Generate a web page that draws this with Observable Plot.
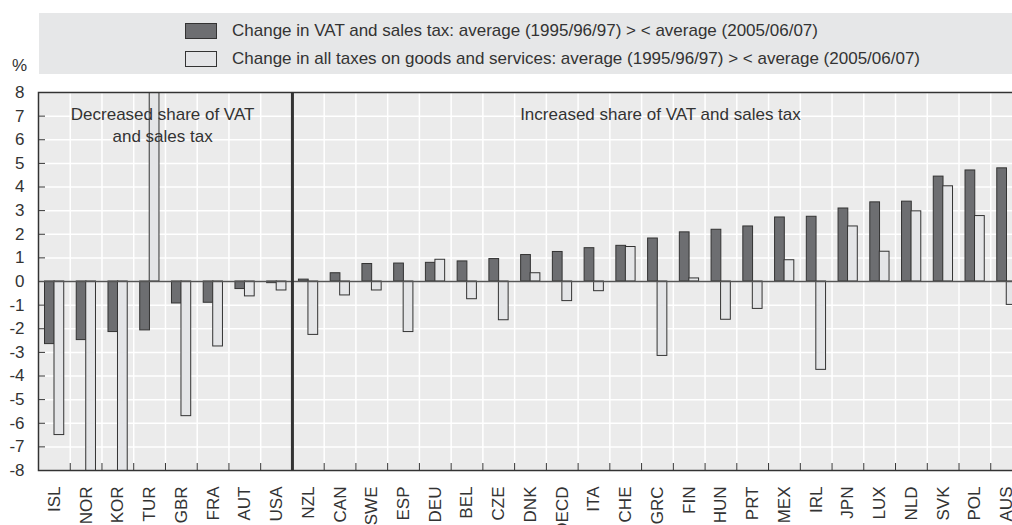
<!DOCTYPE html>
<html>
<head>
<meta charset="utf-8">
<script src="https://cdn.jsdelivr.net/npm/d3@7"></script>
<script src="https://cdn.jsdelivr.net/npm/@observablehq/plot@0.6"></script>
<style>
  html, body { margin: 0; padding: 0; overflow: hidden; background: #fff; width: 1012px; height: 525px; }
  body { font-family: "Liberation Sans Narrow", "Liberation Sans", sans-serif; color: #333; }
  #legend { position: relative; height: 62px; }
  #legend .box { position: absolute; left: 39px; top: 13px; width: 990px; height: 61px; background: #e6e7e8; }
  #legend .sw { position: absolute; left: 185px; width: 30px; height: 14px; border: 1px solid #333; }
  #legend .lt { position: absolute; left: 232px; font-size: 17px; line-height: 20px; white-space: nowrap; }
  #legend .pct { position: absolute; left: 12px; top: 56px; font-size: 17px; line-height: 20px; }
  #chart { position: relative; }
</style>
</head>
<body>
<div id="legend"></div>
<div id="chart"></div>
<script>
const countries = ["ISL","NOR","KOR","TUR","GBR","FRA","AUT","USA","NZL","CAN","SWE","ESP","DEU","BEL","CZE","DNK","OECD","ITA","CHE","GRC","FIN","HUN","PRT","MEX","IRL","JPN","LUX","NLD","SVK","POL","AUS"];
const vatChange = [-2.65,-2.48,-2.14,-2.07,-0.93,-0.9,-0.32,-0.07,0.08,0.35,0.74,0.76,0.79,0.85,0.95,1.12,1.25,1.41,1.51,1.82,2.08,2.19,2.33,2.71,2.74,3.09,3.35,3.38,4.44,4.7,4.79];
const allTaxesChange = [-6.5,-10.5,-9.5,9.5,-5.7,-2.75,-0.63,-0.38,-2.26,-0.59,-0.38,-2.14,0.92,-0.75,-1.64,0.35,-0.83,-0.41,1.46,-3.15,0.13,-1.62,-1.16,0.9,-3.74,2.33,1.26,2.97,4.03,2.77,-0.99];
const seriesNames = [
  "Change in VAT and sales tax: average (1995/96/97) > < average (2005/06/07)",
  "Change in all taxes on goods and services: average (1995/96/97) > < average (2005/06/07)"
];
const seriesColors = ["#6d6e71", "#e4e5e7"];
const yTicks = [-8,-7,-6,-5,-4,-3,-2,-1,0,1,2,3,4,5,6,7,8];
const annotations = [
  {label: "Decreased share of VAT", country: "TUR", value: 7.08, shift: 13},
  {label: "and sales tax", country: "TUR", value: 6.15, shift: 13},
  {label: "Increased share of VAT and sales tax", country: "GRC", value: 7.08, shift: 3}
];

const rows = countries.map((c, i) => ({country: c, vat: vatChange[i], all: allTaxesChange[i]}));

// Legend (HTML, above the SVG)
const legend = document.getElementById("legend");
legend.innerHTML = `<div class="box"></div>
  <div class="sw" style="top:23px;background:${seriesColors[0]}"></div>
  <div class="lt" style="top:21px">${seriesNames[0].replace(/</g,"&lt;").replace(/>/g,"&gt;")}</div>
  <div class="sw" style="top:51px;background:${seriesColors[1]}"></div>
  <div class="lt" style="top:49px">${seriesNames[1].replace(/</g,"&lt;").replace(/>/g,"&gt;")}</div>
  <div class="pct">%</div>`;

const width = 1023, height = 463;
const marginLeft = 38, marginRight = 1, marginTop = 30, marginBottom = 55;
const pw = width - marginLeft - marginRight;
const ph = height - marginTop - marginBottom;
const bw = pw / countries.length;

const chart = Plot.plot({
  width, height, marginLeft, marginRight, marginTop, marginBottom,
  style: "background:transparent;max-width:none;overflow:visible;font-family:'Liberation Sans Narrow','Liberation Sans',sans-serif;font-size:17px;color:#333;",
  x: {domain: countries, padding: 0, round: false, tickSize: 0, tickPadding: 16, tickRotate: -90, label: null},
  y: {domain: [-8, 8], ticks: 16, tickSize: 0, tickPadding: 14, tickFormat: d => String(d), label: null},
  marks: [
    Plot.frame({fill: "#ebebeb"}),
    Plot.ruleY(yTicks, {stroke: "#fff", strokeWidth: 1.5}),
    Plot.ruleX(countries, {stroke: "#fff", strokeWidth: 1.5, dx: -bw / 2}),
    Plot.ruleX(countries, {stroke: "#333", strokeWidth: 1, dx: -bw / 2, insetTop: ph - 7}),
    Plot.ruleY(yTicks, {stroke: "#333", strokeWidth: 1, insetRight: pw - 7}),
    Plot.barY(rows, {x: "country", y: "vat", fill: seriesColors[0], stroke: "#333", strokeWidth: 1, insetLeft: 6.5, insetRight: 15.5, clip: true}),
    Plot.barY(rows, {x: "country", y: "all", fill: seriesColors[1], stroke: "#333", strokeWidth: 1, insetLeft: 16, insetRight: 6, clip: true}),
    Plot.ruleY([0], {stroke: "#555", strokeWidth: 1.5}),
    Plot.ruleX(["NZL"], {stroke: "#333", strokeWidth: 3, dx: -bw / 2}),
    ...annotations.map(a => Plot.text([a], {x: "country", y: "value", text: "label", dx: a.shift, fill: "#333", fontSize: 17, lineAnchor: "middle", textAnchor: "middle"})),
    Plot.frame({stroke: "#333", strokeWidth: 1.5})
  ]
});
document.getElementById("chart").appendChild(chart);
</script>
</body>
</html>
